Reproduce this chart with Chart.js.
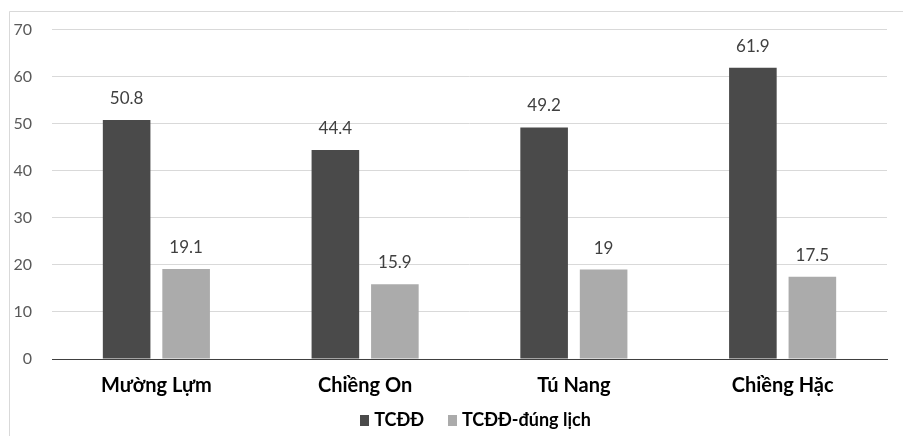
<!DOCTYPE html>
<html>
<head>
<meta charset="utf-8">
<script src="https://cdn.jsdelivr.net/npm/chart.js@4/dist/chart.umd.min.js"></script>
<style>
html,body{margin:0;padding:0;background:#fff;}
#wrap{width:903px;height:436px;position:relative;}
</style>
</head>
<body>
<div id="wrap"><canvas id="c" width="903" height="436"></canvas></div>
<script>
const categories = ["Mường Lựm", "Chiềng On", "Tú Nang", "Chiềng Hặc"];
const seriesNames = ["TCĐĐ", "TCĐĐ-đúng lịch"];
const tcdd = [50.8, 44.4, 49.2, 61.9];
const tcddDungLich = [19.1, 15.9, 19, 17.5];
const yTicks = [0, 10, 20, 30, 40, 50, 60, 70];

const FONT = "Lato, 'Liberation Sans', sans-serif";

const borderPlugin = {
  id: 'border',
  beforeDraw(chart) {
    const ctx = chart.ctx;
    ctx.save();
    ctx.fillStyle = '#fff';
    ctx.fillRect(0, 0, chart.width, chart.height);
    ctx.strokeStyle = '#d9d9d9';
    ctx.lineWidth = 1;
    ctx.beginPath();
    ctx.moveTo(9.5, chart.height);
    ctx.lineTo(9.5, 11.5);
    ctx.lineTo(chart.width, 11.5);
    ctx.stroke();
    ctx.restore();
  }
};

const labelPlugin = {
  id: 'vals',
  afterDatasetsDraw(chart) {
    const ctx = chart.ctx;
    ctx.save();
    ctx.font = "17px " + FONT;
    ctx.fillStyle = '#404040';
    ctx.textAlign = 'center';
    ctx.textBaseline = 'bottom';
    chart.data.datasets.forEach((ds, i) => {
      chart.getDatasetMeta(i).data.forEach((bar, j) => {
        ctx.fillText(String(ds.data[j]), bar.x, bar.y - 13);
      });
    });
    ctx.restore();
  }
};

// Legend drawn below the x axis labels
const legendPlugin = {
  id: 'customLegend',
  afterDraw(chart) {
    const ctx = chart.ctx;
    const ds = chart.data.datasets;
    ctx.save();
    ctx.font = "bold 18px " + FONT;
    ctx.textBaseline = 'middle';
    ctx.textAlign = 'left';
    const boxW = 9, boxH = 11, boxGap = 5, itemGap = 24;
    const widths = ds.map(d => boxW + boxGap + ctx.measureText(d.label).width);
    const total = widths.reduce((a, b) => a + b, 0) + itemGap * (ds.length - 1);
    const ca = chart.chartArea;
    let x = (ca.left + ca.right) / 2 + 6 - total / 2;
    const y = chart.height - 16;
    ds.forEach((d, i) => {
      ctx.fillStyle = d.backgroundColor;
      ctx.fillRect(Math.round(x), Math.round(y - boxH / 2), boxW, boxH);
      ctx.fillStyle = '#000';
      ctx.fillText(d.label, x + boxW + boxGap, y);
      x += widths[i] + itemGap;
    });
    ctx.restore();
  }
};

new Chart(document.getElementById('c'), {
  type: 'bar',
  data: {
    labels: categories,
    datasets: [
      { label: seriesNames[0], data: tcdd, backgroundColor: '#4a4a4a', borderColor: '#4a4a4a', borderWidth: 0 },
      { label: seriesNames[1], data: tcddDungLich, backgroundColor: '#ababab', borderColor: '#ababab', borderWidth: 0 }
    ]
  },
  options: {
    responsive: false,
    animation: false,
    devicePixelRatio: 1,
    categoryPercentage: 0.57,
    barPercentage: 0.8,
    layout: { padding: { left: 0, right: 16, top: 24, bottom: 0 } },
    plugins: {
      tooltip: { enabled: false },
      legend: { display: false }
    },
    scales: {
      x: {
        grid: { display: false, drawTicks: false },
        border: { display: true, color: '#404040', width: 1 },
        ticks: { color: '#000', padding: 15, font: { family: FONT, size: 20, weight: 'bold' } },
        afterFit(s) { s.height = 77; }
      },
      y: {
        min: 0, max: 70,
        afterBuildTicks(s) { s.ticks = yTicks.map(v => ({ value: v })); },
        grid: { color: '#d9d9d9', drawTicks: false },
        border: { display: false },
        ticks: { color: '#595959', padding: 20, font: { family: FONT, size: 16 } },
        afterFit(s) { s.width = 52; }
      }
    }
  },
  plugins: [borderPlugin, labelPlugin, legendPlugin]
});
</script>
</body>
</html>
